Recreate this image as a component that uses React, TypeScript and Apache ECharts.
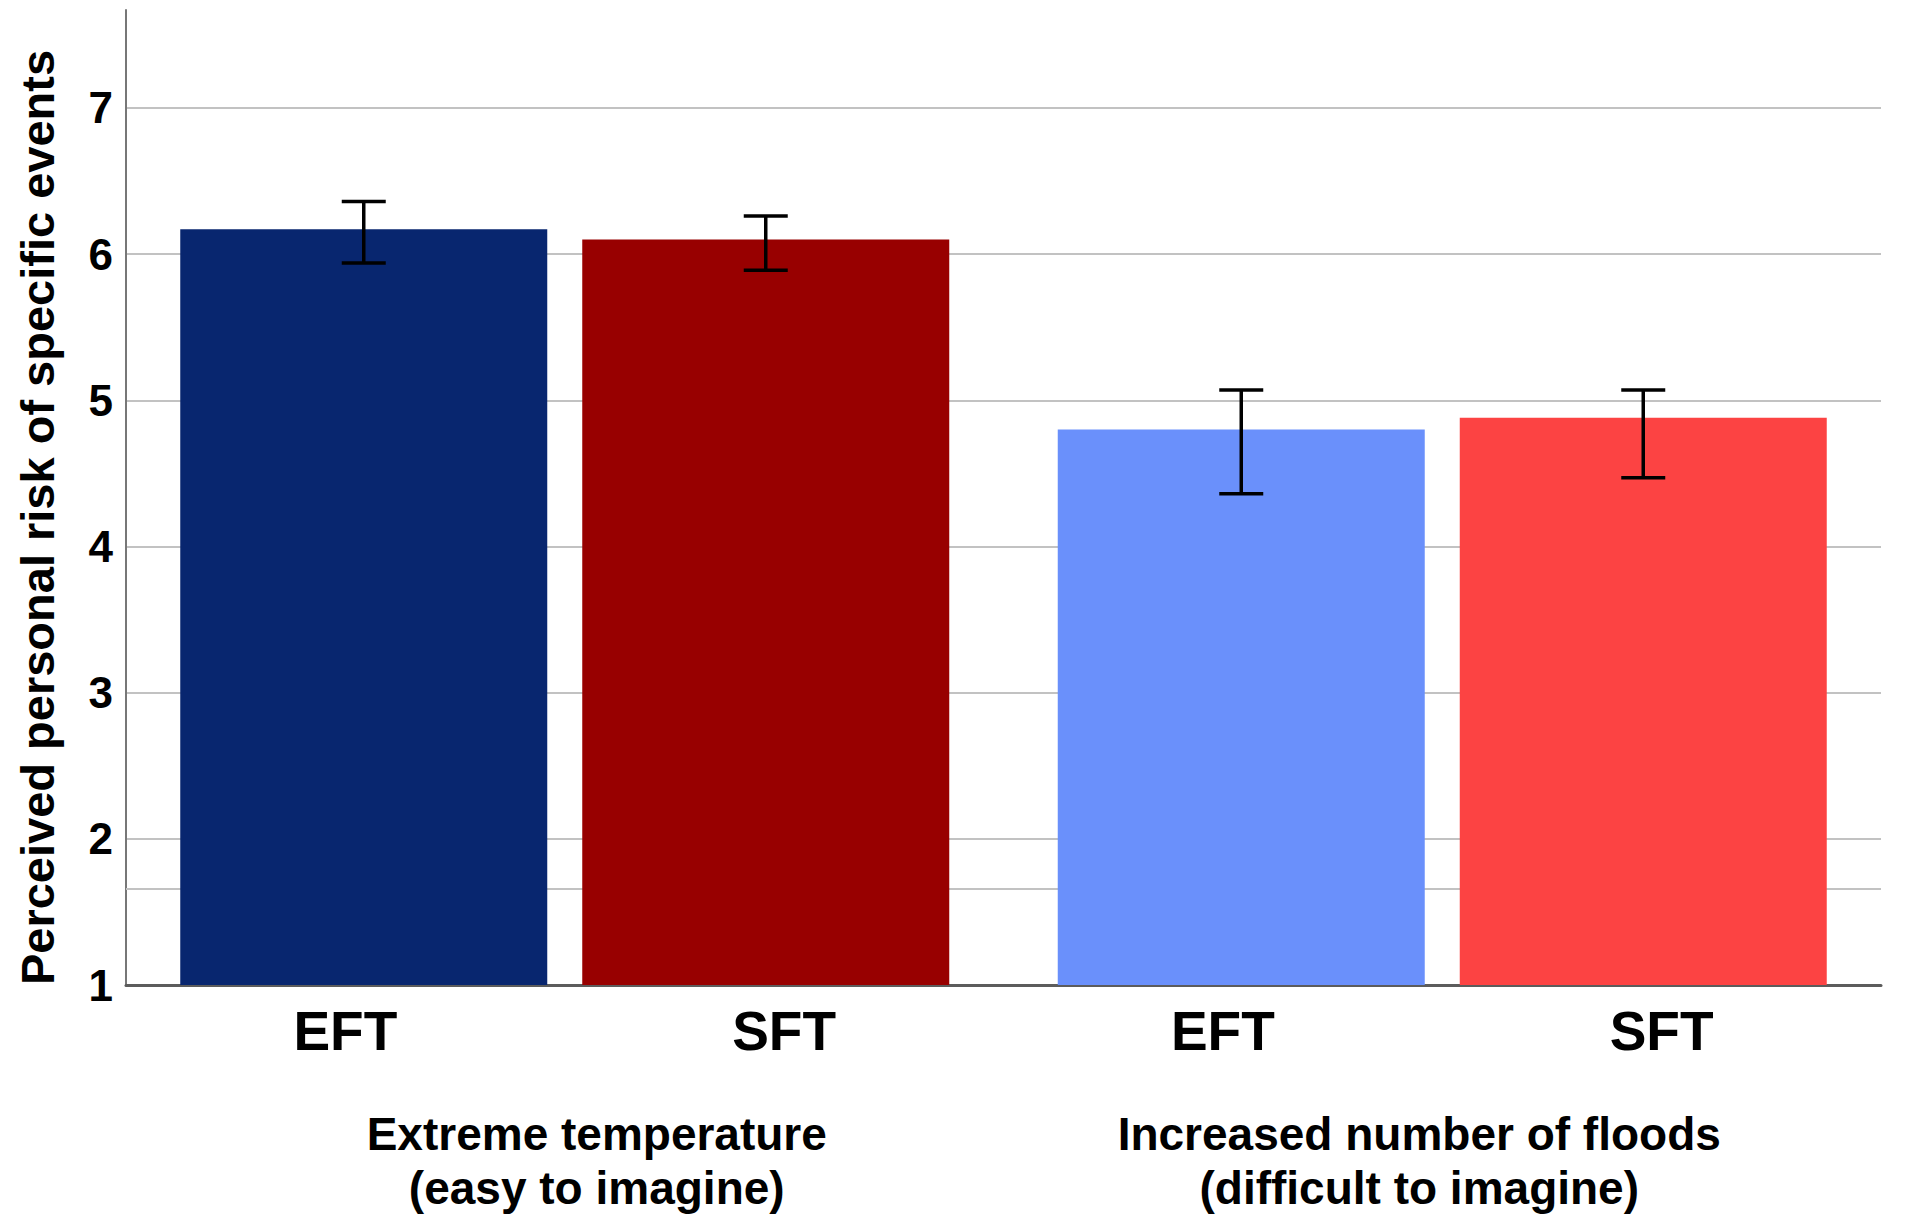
import React, { useEffect, useRef } from "react";
import * as echarts from "echarts";

// ---- data ----
const GROUPS = [
  "Extreme temperature\n(easy to imagine)",
  "Increased number of floods\n(difficult to imagine)",
];
const CONDITIONS = ["EFT", "SFT", "EFT", "SFT"];
const EFT_MEANS = [6.17, 4.8];
const SFT_MEANS = [6.1, 4.88];
const EFT_LOW = [5.94, 4.36];
const EFT_HIGH = [6.36, 5.07];
const SFT_LOW = [5.89, 4.47];
const SFT_HIGH = [6.26, 5.07];
const EFT_COLORS = ["#08266f", "#6a90fb"];
const SFT_COLORS = ["#980000", "#fc4343"];
const EXTRA_RULE = [1.656];
const Y_MIN = 1;
const Y_MAX = 7.67;
const Y_INTERVAL = 1;
const Y_NAME = "Perceived personal risk of specific events";

// ---- styles ----
const FONT = "'Liberation Sans', Arial, Helvetica, sans-serif";
const BAR_W = 367;
const BAR_GAP = 35;
const CAP_HALF = 22;

export default function App() {
  const ref = useRef<HTMLDivElement>(null);

  useEffect(() => {
    document.body.style.margin = "0";
    document.body.style.overflow = "hidden";
    const chart = echarts.init(ref.current!, null, { renderer: "svg" });

    const errData: number[][] = [];
    for (let g = 0; g < GROUPS.length; g++) {
      errData.push([g, 0, EFT_LOW[g], EFT_HIGH[g]]);
      errData.push([g, 1, SFT_LOW[g], SFT_HIGH[g]]);
    }

    const option: any = {
      animation: false,
      backgroundColor: "#ffffff",
      textStyle: { fontFamily: FONT },
      grid: { left: 126, right: 27, top: 10, bottom: 246, containLabel: false },
      xAxis: [
        {
          type: "category",
          data: GROUPS,
          gridIndex: 0,
          axisTick: { show: false },
          axisLine: { show: true, lineStyle: { color: "#5c5c5c", width: 3 } },
          splitLine: { show: false },
          axisLabel: {
            interval: 0,
            margin: 122,
            color: "#000",
            formatter: (v: string, i: number) => {
              const tag = i === 0 ? "a" : "b";
              return v
                .split("\n")
                .map((l) => `{${tag}|${l}}`)
                .join("\n");
            },
            rich: {
              a: {
                fontFamily: FONT,
                fontWeight: "bold",
                fontSize: 46,
                lineHeight: 54,
                color: "#000",
                padding: [0, 0, 0, 64],
              },
              b: {
                fontFamily: FONT,
                fontWeight: "bold",
                fontSize: 46,
                lineHeight: 54,
                color: "#000",
                padding: [0, 46, 0, 0],
              },
            },
          },
        },
        {
          type: "category",
          data: CONDITIONS,
          gridIndex: 0,
          position: "bottom",
          axisTick: { show: false },
          axisLine: { show: false },
          splitLine: { show: false },
          axisLabel: {
            interval: 0,
            margin: 18,
            color: "#000",
            fontFamily: FONT,
            fontWeight: "bold",
            fontSize: 55,
          },
        },
      ],
      yAxis: {
        type: "value",
        min: Y_MIN,
        max: Y_MAX,
        interval: Y_INTERVAL,
        name: Y_NAME,
        nameLocation: "middle",
        nameGap: 65,
        nameTextStyle: {
          fontFamily: FONT,
          fontWeight: "bold",
          fontSize: 47,
          color: "#000",
          padding: [0, 40, 0, 0],
        },
        axisLine: { show: true, lineStyle: { color: "#777", width: 2 } },
        axisTick: { show: false },
        axisLabel: {
          margin: 13,
          color: "#000",
          fontFamily: FONT,
          fontWeight: "bold",
          fontSize: 44,
          showMaxLabel: false,
          formatter: (v: number) => (Number.isInteger(v) ? String(v) : ""),
        },
        splitLine: {
          show: true,
          showMaxLine: false,
          lineStyle: { color: "#c2c2c2", width: 2 },
        },
      },
      series: [
        {
          type: "custom",
          name: "rule",
          silent: true,
          z: 1,
          xAxisIndex: 0,
          data: EXTRA_RULE.map((v) => [0, v]),
          encode: { x: 0, y: 1 },
          renderItem: (params: any, api: any) => {
            const y = api.coord([0, api.value(1)])[1];
            const cs = params.coordSys;
            return {
              type: "line",
              shape: { x1: cs.x, y1: y, x2: cs.x + cs.width, y2: y },
              style: { stroke: "#c2c2c2", lineWidth: 2 },
            };
          },
        },
        {
          type: "bar",
          name: "EFT",
          xAxisIndex: 0,
          z: 2,
          barWidth: BAR_W,
          barGap: (BAR_GAP / BAR_W) * 100 + "%",
          data: EFT_MEANS.map((v, i) => ({
            value: v,
            itemStyle: { color: EFT_COLORS[i] },
          })),
        },
        {
          type: "bar",
          name: "SFT",
          xAxisIndex: 0,
          z: 2,
          barWidth: BAR_W,
          barGap: (BAR_GAP / BAR_W) * 100 + "%",
          data: SFT_MEANS.map((v, i) => ({
            value: v,
            itemStyle: { color: SFT_COLORS[i] },
          })),
        },
        {
          type: "custom",
          name: "error",
          silent: true,
          z: 3,
          xAxisIndex: 0,
          data: errData,
          encode: { x: 0, y: [2, 3] },
          renderItem: (params: any, api: any) => {
            const g = api.value(0);
            const s = api.value(1);
            const lo = api.coord([g, api.value(2)]);
            const hi = api.coord([g, api.value(3)]);
            const x = lo[0] + (s === 0 ? -1 : 1) * ((BAR_W + BAR_GAP) / 2);
            const style = { stroke: "#000", lineWidth: 3.5 };
            return {
              type: "group",
              children: [
                { type: "line", shape: { x1: x, y1: hi[1], x2: x, y2: lo[1] }, style },
                {
                  type: "line",
                  shape: { x1: x - CAP_HALF, y1: hi[1], x2: x + CAP_HALF, y2: hi[1] },
                  style,
                },
                {
                  type: "line",
                  shape: { x1: x - CAP_HALF, y1: lo[1], x2: x + CAP_HALF, y2: lo[1] },
                  style,
                },
              ],
            };
          },
        },
      ],
    };

    chart.setOption(option);
    return () => chart.dispose();
  }, []);

  return <div ref={ref} style={{ width: 1908, height: 1231 }} />;
}
